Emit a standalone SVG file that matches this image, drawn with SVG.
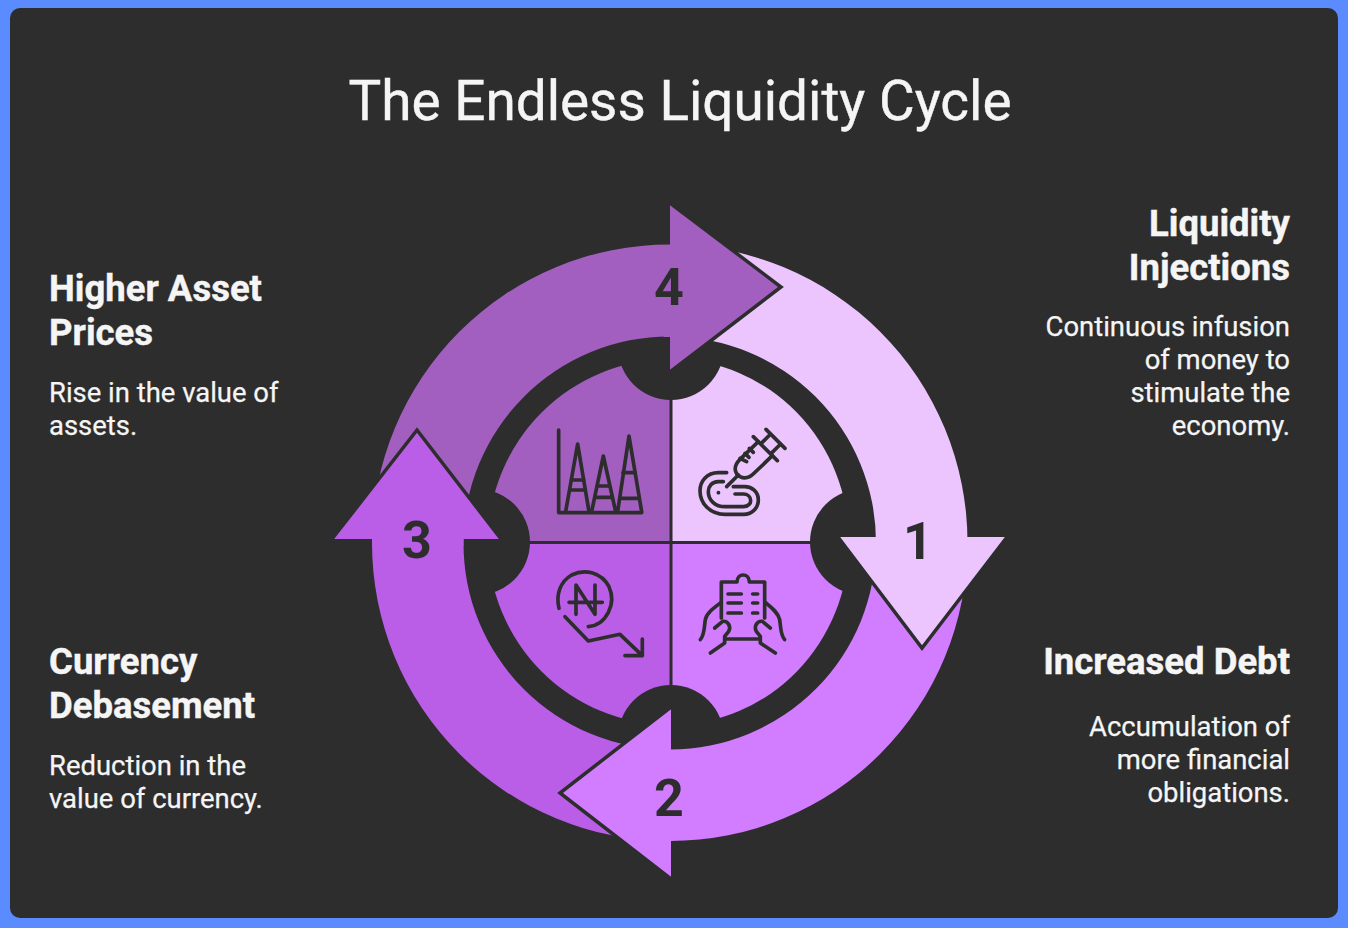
<svg xmlns="http://www.w3.org/2000/svg" width="1348" height="928" viewBox="0 0 1348 928">
<style>
.t{font-family:Roboto,"Liberation Sans",sans-serif;fill:#f5f5f5;stroke:#f5f5f5;stroke-width:.25}
.title{font-size:54.9px;stroke-width:.4}
.h{font-size:36.5px;font-weight:700;stroke-width:.4}
.b{font-size:27.45px}
.e{text-anchor:end}
.n{font-family:Roboto,"Liberation Sans",sans-serif;font-size:52px;font-weight:700;fill:#2d2d2d;text-anchor:middle}
.head{stroke:#2d2d2d;stroke-width:3.5;stroke-linejoin:miter}
.i{fill:none;stroke:#2d2d2d;stroke-width:11;stroke-linecap:round;stroke-linejoin:round}
.c1{fill:#ecc5ff}.c2{fill:#d27dff}.c3{fill:#ba5ee8}.c4{fill:#a25fbf}
.d{fill:#2d2d2d}
</style>
<rect width="1348" height="928" fill="#5b8cff"/>
<rect x="10" y="8" width="1328" height="910" rx="10" fill="#2d2d2d"/>
<text class="t title" x="680" y="120" text-anchor="middle">The Endless Liquidity Cycle</text>

<g id="quadrants">
<path class="c1" d="M671 542V359A178 183 0 0 1 849 542Z"/>
<path class="c2" d="M671 542H849A178 183 0 0 1 671 725Z"/>
<path class="c3" d="M671 542V725A183 183 0 0 1 488 542Z"/>
<path class="c4" d="M671 542H488A183 183 0 0 1 671 359Z"/>
<path d="M671 350V735M480 542.500H860" stroke="#2d2d2d" stroke-width="3" fill="none"/>
<circle class="d" cx="671" cy="347" r="53"/>
<circle class="d" cx="863" cy="542" r="53"/>
<circle class="d" cx="671" cy="738" r="53"/>
<circle class="d" cx="477" cy="542" r="53"/>
</g>

<g id="connectors">
<path class="c1" d="M670 244.500A298 298 0 0 1 967.500 542.500H876A206 206 0 0 0 670 336.500Z"/>
<path class="c2" d="M967.500 542.500A298 298 0 0 1 670 841V749.500A206 206 0 0 0 876 542.500Z"/>
<path class="c3" d="M670 841A298 298 0 0 1 372 542.500H463.500A206 206 0 0 0 670 749.500Z"/>
<path class="c4" d="M372 542.500A298 298 0 0 1 670 244.500V336.500A206 206 0 0 0 463.500 542.500Z"/>
<path class="c1 head" d="M838 537L922 648L1007 537"/>
<path class="c1" d="M876 530H967V539H876Z"/>
<path class="c2 head" d="M671 707L560 793L671 879"/>
<path class="c2" d="M664 750H673V841H664Z"/>
<path class="c3 head" d="M332 539L417 430L501 539"/>
<path class="c3" d="M372 536H463.500V546H372Z"/>
<path class="c4 head" d="M670 203L781 287L670 372"/>
<path class="c4" d="M664 245H672V337H664Z"/>
</g>

<g id="node-1">
<text class="n" x="918" y="559">1</text>
<text class="t h e" x="1290" y="235.500">Liquidity</text>
<text class="t h e" x="1290" y="279.500">Injections</text>
<text class="t b e" x="1290" y="336">Continuous infusion</text>
<text class="t b e" x="1290" y="369">of money to</text>
<text class="t b e" x="1290" y="402">stimulate the</text>
<text class="t b e" x="1290" y="435">economy.</text>
<g transform="translate(690 420) scale(.3333)" class="i">
<path d="M228 28L285 85M190 50L262 122M242 42L216 68M272 72L246 98"/>
<path d="M205 65L150 118C128 140 134 160 150 170C165 178 180 172 192 160L247 107"/>
<path d="M145 165L110 200M178 85L190 97M165 100L177 112M150 115L170 125"/>
<path d="M110 158H85C50 158 30 185 30 212C30 250 60 283 105 283H160C190 283 205 260 205 240C205 215 185 200 165 200H130"/>
<path d="M100 185H85C65 185 55 200 55 215C55 240 75 260 105 260H160C175 260 182 250 182 242C182 230 172 222 160 222H135"/>
<path d="M85 218H85.500"/>
</g>
</g>

<g id="node-2">
<text class="n" x="669" y="816">2</text>
<text class="t h e" x="1290" y="673.500">Increased Debt</text>
<text class="t b e" x="1290" y="736">Accumulation of</text>
<text class="t b e" x="1290" y="769">more financial</text>
<text class="t b e" x="1290" y="802">obligations.</text>
<g transform="translate(692 568) scale(.3333)" class="i">
<path d="M135 42H88V150M218 150V42H172C172 14 135 14 135 42"/>
<path d="M100 213H205M108 78H148M108 105H148M108 135H148M182 78H197M182 105H197M182 135H197"/>
<path d="M25 215C38 200 36 180 40 155C44 135 65 120 85 105"/>
<path d="M68 180L92 160C108 158 118 175 110 190L98 205V225L55 255"/>
<path d="M278 215C265 200 267 180 263 155C259 135 240 120 222 105"/>
<path d="M235 180L211 160C195 158 185 175 193 190L205 205V225L250 255"/>
</g>
</g>

<g id="node-3">
<text class="n" x="417" y="558">3</text>
<text class="t h" x="49" y="673.500">Currency</text>
<text class="t h" x="49" y="717.500">Debasement</text>
<text class="t b" x="49" y="775">Reduction in the</text>
<text class="t b" x="49" y="808">value of currency.</text>
<g transform="translate(545 565) scale(.3333)" class="i">
<path d="M42 130C32 90 45 50 80 30C120 10 170 22 192 65C215 115 185 180 130 185"/>
<path d="M93 148V60L150 148V60M72 112H172"/>
<path d="M60 155L130 228L225 208L292 272M292 222V272H240"/>
</g>
</g>

<g id="node-4">
<text class="n" x="669" y="305">4</text>
<text class="t h" x="49" y="300.500">Higher Asset</text>
<text class="t h" x="49" y="344.500">Prices</text>
<text class="t b" x="49" y="402">Rise in the value of</text>
<text class="t b" x="49" y="435">assets.</text>
<g transform="translate(545 420) scale(.3333)" class="i">
<path d="M41 30V278H290"/>
<path d="M62 275L98 72L132 275M140 275L175 108L212 275M218 275L252 48L290 275"/>
<path d="M80 180H116M76 210H120M158 198H192M152 232H198M234 158H270M225 235H281"/>
</g>
</g>
</svg>
